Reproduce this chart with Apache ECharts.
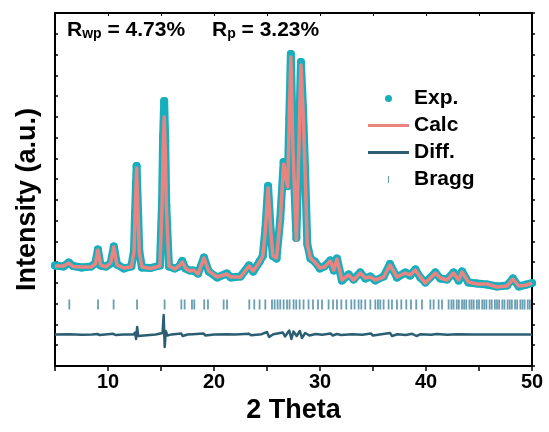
<!DOCTYPE html>
<html>
<head>
<meta charset="utf-8">
<script src="https://cdn.jsdelivr.net/npm/echarts@6/dist/echarts.min.js"></script>
<style>
  html, body { margin: 0; padding: 0; background: #fff; }
  #chart { width: 549px; height: 432px; }
</style>
</head>
<body>
<div id="chart"></div>
<script>
// Refinement result: observed pattern, calculated profile, difference curve, Bragg positions.
// Intensities are in arbitrary units (patterns are offset vertically for display).

const expPoints = [
  [5.0,1005],[5.8,995],[6.3,1035],[6.7,1000],[7.5,985],[8.4,995],[8.8,1025],[9.05,1165],[9.3,1005],
  [9.8,995],[10.25,1025],[10.55,1195],[10.85,1015],[11.5,975],[12.2,995],[12.45,1150],[12.55,1520],
  [12.7,2000],[12.85,1500],[12.95,1150],[13.2,985],[14.0,980],[14.9,1005],[15.1,1650],[15.2,2300],
  [15.3,2650],[15.4,2250],[15.5,1600],[15.75,995],[16.3,975],[16.7,995],[17.0,1050],[17.3,975],
  [17.7,955],[18.05,955],[18.5,925],[19.05,1085],[19.5,945],[20.3,885],[21.2,925],[21.6,885],
  [22.5,895],[23.3,1005],[23.7,945],[24.3,1045],[24.6,1100],[24.85,1370],[25.1,1800],[25.35,1350],
  [25.55,1100],[25.9,1075],[26.25,1470],[26.57,2040],[26.95,1800],[27.1,2480],[27.25,3120],
  [27.45,2170],[27.77,1280],[28.0,2170],[28.2,3040],[28.4,2570],[28.6,1940],[28.8,1220],[29.1,1075],
  [29.5,1045],[30.0,975],[30.4,995],[30.97,1055],[31.3,955],[31.6,1075],[32.07,855],[32.7,915],
  [33.17,865],[33.8,935],[34.28,875],[34.75,895],[35.22,855],[36.0,895],[36.6,1020],[37.26,885],
  [38.05,935],[38.5,905],[39.0,965],[39.46,885],[39.94,835],[40.88,935],[41.35,875],[41.98,865],
  [42.6,935],[43.08,855],[43.4,945],[44.0,835],[44.8,825],[45.75,815],[46.7,795],[47.64,805],
  [48.2,875],[48.75,795],[49.5,815],[50.0,830]
];

const calcPoints = [
  [5.0,1000],[5.8,1000],[6.3,1030],[6.7,995],[7.5,990],[8.4,990],[8.8,1020],[9.05,1160],[9.3,1010],
  [9.8,990],[10.25,1030],[10.55,1190],[10.85,1010],[11.5,980],[12.2,990],[12.45,1140],[12.55,1480],
  [12.7,1980],[12.85,1480],[12.95,1140],[13.2,990],[14.0,975],[14.9,1000],[15.1,1610],[15.2,2150],
  [15.3,2490],[15.4,2150],[15.5,1610],[15.75,1000],[16.3,970],[16.7,1000],[17.0,1040],[17.3,980],
  [17.7,950],[18.05,960],[18.5,920],[19.05,1080],[19.5,950],[20.3,890],[21.2,920],[21.6,890],
  [22.5,890],[23.3,1000],[23.7,950],[24.3,1040],[24.6,1100],[24.85,1360],[25.1,1780],[25.35,1360],
  [25.55,1100],[25.9,1080],[26.25,1460],[26.57,2020],[26.95,1790],[27.1,2460],[27.25,3090],
  [27.45,2160],[27.77,1260],[28.0,2160],[28.2,3010],[28.4,2560],[28.6,1930],[28.8,1210],[29.1,1080],
  [29.5,1040],[30.0,980],[30.4,990],[30.97,1050],[31.3,960],[31.6,1070],[32.07,860],[32.7,910],
  [33.17,860],[33.8,930],[34.28,880],[34.75,890],[35.22,860],[36.0,890],[36.6,1010],[37.26,890],
  [38.05,930],[38.5,910],[39.0,960],[39.46,890],[39.94,830],[40.88,930],[41.35,880],[41.98,860],
  [42.6,930],[43.08,860],[43.4,940],[44.0,840],[44.8,820],[45.75,820],[46.7,790],[47.64,800],
  [48.2,870],[48.75,800],[49.5,810],[50.0,830]
];

const diffPoints = [
  [5.0,315],[6.3,318],[7.5,312],[8.5,316],[9.0,320],[9.2,310],[10.5,322],[10.7,310],[11.5,316],
  [12.4,314],[12.55,335],[12.65,270],[12.75,390],[12.85,300],[13.0,318],[14.5,315],[15.15,330],
  [15.25,510],[15.35,190],[15.45,350],[15.6,305],[16.0,316],[16.9,325],[17.05,300],[17.5,315],
  [18.0,318],[19.0,325],[19.2,305],[20.0,315],[21.2,318],[22.0,314],[23.3,322],[23.5,308],
  [24.5,318],[25.0,340],[25.2,290],[25.6,318],[26.5,335],[26.7,295],[27.1,355],[27.3,270],
  [27.5,345],[27.8,300],[28.1,350],[28.3,280],[28.6,330],[29.0,305],[29.6,320],[30.2,312],
  [31.0,325],[31.2,305],[31.6,320],[32.0,310],[33.0,318],[34.0,312],[34.8,325],[35.0,305],
  [36.6,330],[36.8,300],[37.3,318],[38.1,310],[38.7,322],[39.1,300],[39.5,318],[40.5,313],
  [41.0,320],[42.0,312],[43.0,318],[44.5,315],[46.0,316],[48.0,315],[50.0,315]
];

const braggPositions = [
  6.35, 9.06, 10.53, 12.74, 15.34, 16.92, 17.23, 17.92, 18.14, 19.08, 19.43, 20.91, 21.23,
  23.33, 23.80, 24.30, 24.84, 25.47, 25.72, 26.00, 26.25, 26.57, 26.89, 27.13, 27.51, 27.76,
  28.08, 28.45, 28.92, 29.34, 29.81, 30.19, 30.81, 31.23, 31.60, 32.01, 32.48, 32.95, 33.26,
  33.64, 33.90, 34.27, 34.75, 35.22, 35.47, 35.69, 36.00, 36.47, 36.79, 37.26, 37.67, 38.14,
  38.58, 39.08, 39.62, 40.41, 40.72, 41.19, 41.51, 42.13, 42.4, 42.6, 42.9, 43.1, 43.4, 43.6,
  43.8, 44.1, 44.3, 44.5, 44.8, 45.0, 45.3, 45.5, 45.7, 46.0, 46.2, 46.5, 46.7, 46.9, 47.2,
  47.4, 47.7, 47.9, 48.1, 48.4, 48.6, 48.9, 49.1, 49.3, 49.6, 49.8
];
const braggLevel = 615;

const xTicks = { min: 5, max: 50, step: 5 };
const yRange = { min: 0, max: 3530, divisions: 17 };

const FONT = "'Liberation Sans', Arial, sans-serif";
const COLORS = { exp: '#17afbd', calc: '#ea8480', diff: '#2c5e73', bragg: '#5a93ab' };

const chart = echarts.init(document.getElementById('chart'), null, { renderer: 'canvas' });

const yStep = (yRange.max - yRange.min) / yRange.divisions;

const richR = {
  r: { fontFamily: FONT, fontWeight: 'bold', fontSize: 21, color: '#000', verticalAlign: 'bottom' },
  s: { fontFamily: FONT, fontWeight: 'bold', fontSize: 14, color: '#000', verticalAlign: 'bottom' }
};

chart.setOption({
  animation: false,
  backgroundColor: '#fff',
  title: [
    { text: '{r|R}{s|wp}{r| = 4.73%}', left: 67, top: 20, padding: 0, textStyle: { rich: richR } },
    { text: '{r|R}{s|p}{r| = 3.23%}', left: 212, top: 20, padding: 0, textStyle: { rich: richR } }
  ],
  legend: {
    orient: 'vertical',
    left: 368, top: 88,
    padding: 0,
    itemWidth: 41, itemHeight: 7,
    itemGap: 6,
    itemTextGap: 6,
    textStyle: { fontFamily: FONT, fontWeight: 'bold', fontSize: 21, color: '#000' },
    data: [
      { name: 'Exp.', icon: 'circle' },
      { name: 'Calc', icon: 'path://M0,0H40V3H0Z' },
      { name: 'Diff.', icon: 'path://M0,0H40V3H0Z' },
      { name: 'Bragg', icon: 'path://M0,0H1V6H0Z' }
    ]
  },
  grid: { left: 55, right: 17, top: 13, bottom: 66 },
  xAxis: [
    {
      type: 'value',
      min: xTicks.min, max: xTicks.max, interval: xTicks.step,
      name: '2 Theta',
      nameLocation: 'middle',
      nameGap: 24,
      nameTextStyle: { fontFamily: FONT, fontWeight: 'bold', fontSize: 27, color: '#000', verticalAlign: 'top' },
      axisLine: { show: true, onZero: false, lineStyle: { color: '#000', width: 2 } },
      axisTick: { show: true, inside: false, length: 5, lineStyle: { color: '#000', width: 1.5 } },
      axisLabel: {
        show: true, margin: 6,
        fontFamily: FONT, fontWeight: 'bold', fontSize: 20, color: '#000',
        formatter: v => (v % 10 === 0 ? String(v) : '')
      },
      splitLine: { show: false }
    },
    {
      type: 'value', position: 'top',
      min: xTicks.min, max: xTicks.max, interval: xTicks.step,
      axisLine: { show: true, onZero: false, lineStyle: { color: '#000', width: 2 } },
      axisTick: { show: true, inside: true, length: 3, lineStyle: { color: '#000', width: 1 } },
      axisLabel: { show: false },
      splitLine: { show: false }
    }
  ],
  yAxis: [
    {
      type: 'value',
      min: yRange.min, max: yRange.max, interval: yStep,
      name: 'Intensity (a.u.)',
      nameLocation: 'middle',
      nameGap: 14,
      nameTextStyle: { fontFamily: FONT, fontWeight: 'bold', fontSize: 27, color: '#000', padding: [0, 20, 0, 0] },
      axisLine: { show: true, onZero: false, lineStyle: { color: '#000', width: 2 } },
      axisTick: { show: true, inside: true, length: 3, lineStyle: { color: '#000', width: 1.5 } },
      axisLabel: { show: false },
      splitLine: { show: false }
    },
    {
      type: 'value', position: 'right',
      min: yRange.min, max: yRange.max, interval: yStep,
      axisLine: { show: true, onZero: false, lineStyle: { color: '#000', width: 2 } },
      axisTick: { show: true, inside: false, length: 3, lineStyle: { color: '#000', width: 1.5 } },
      axisLabel: { show: false },
      splitLine: { show: false }
    }
  ],
  series: [
    {
      name: 'Exp.',
      type: 'line',
      data: expPoints,
      symbol: 'circle',
      symbolSize: 8,
      showSymbol: true,
      itemStyle: { color: COLORS.exp },
      lineStyle: { color: COLORS.exp, width: 8, cap: 'round', join: 'round' },
      z: 2
    },
    {
      name: 'Calc',
      type: 'line',
      data: calcPoints,
      symbol: 'none',
      itemStyle: { color: COLORS.calc },
      lineStyle: { color: COLORS.calc, width: 3.5, join: 'round' },
      z: 3
    },
    {
      name: 'Diff.',
      type: 'line',
      data: diffPoints,
      symbol: 'none',
      itemStyle: { color: COLORS.diff },
      lineStyle: { color: COLORS.diff, width: 2.5, join: 'round' },
      z: 3
    },
    {
      name: 'Bragg',
      type: 'scatter',
      data: braggPositions.map(p => [p, braggLevel]),
      symbol: 'rect',
      symbolSize: [1.8, 10],
      itemStyle: { color: COLORS.bragg, opacity: 0.9 },
      z: 3
    }
  ]
});
</script>
</body>
</html>
